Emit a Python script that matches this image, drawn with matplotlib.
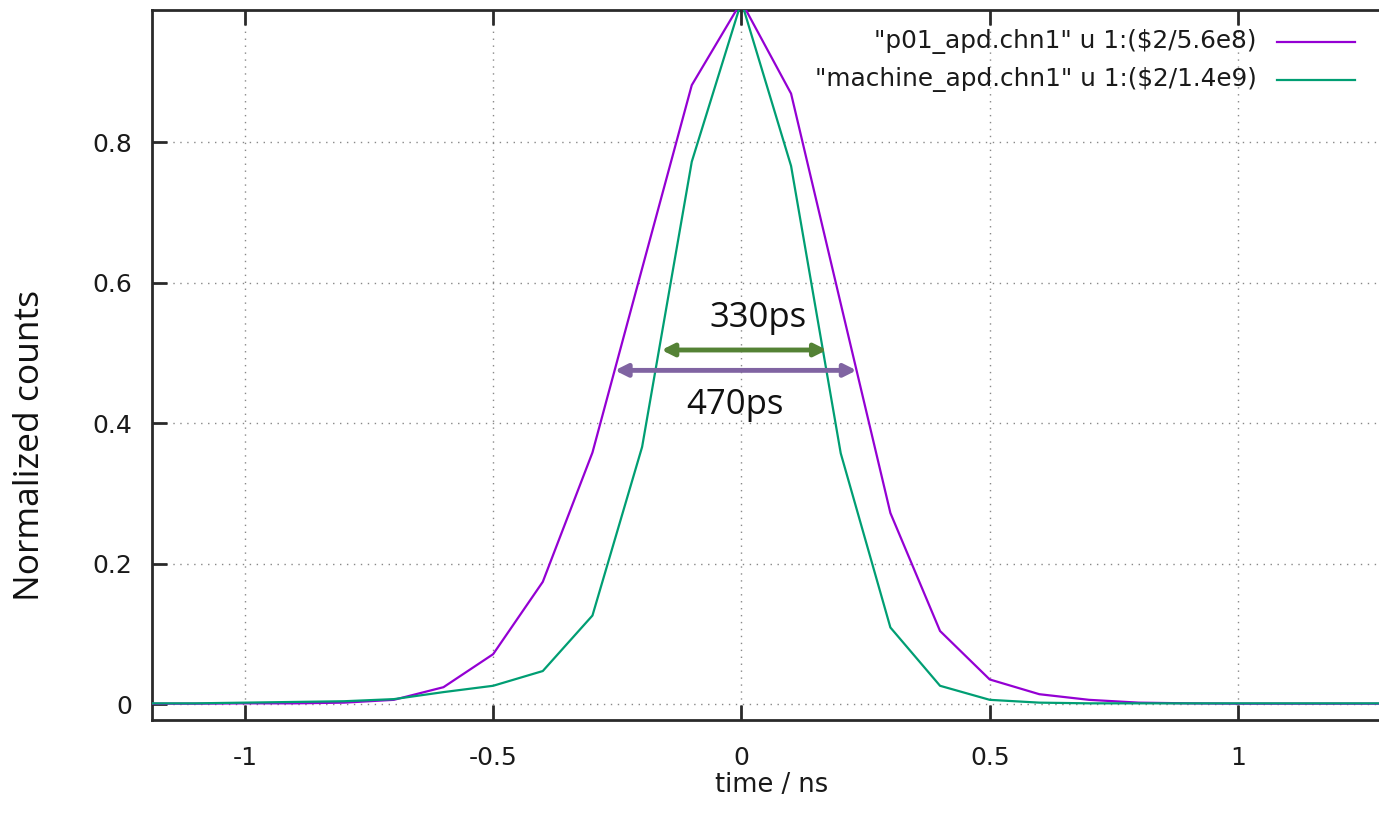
import matplotlib
matplotlib.use("Agg")
import matplotlib.pyplot as plt

# ---- data ----
time_ns = [-1.2, -1.1, -1.0, -0.9, -0.8, -0.7, -0.6, -0.5, -0.4, -0.3, -0.2, -0.1,
           0.0, 0.1, 0.2, 0.3, 0.4, 0.5, 0.6, 0.7, 0.8, 0.9, 1.0, 1.1, 1.2, 1.3]
p01 = [0.0005, 0.0005, 0.001, 0.001, 0.002, 0.006, 0.024, 0.071, 0.174, 0.358, 0.62, 0.881,
       1.0, 0.869, 0.57, 0.272, 0.104, 0.035, 0.014, 0.006, 0.002, 0.001, 0.0005, 0.0005, 0.0005, 0.0005]
machine = [0.001, 0.001, 0.002, 0.003, 0.004, 0.007, 0.017, 0.026, 0.047, 0.126, 0.366, 0.772,
           1.0, 0.766, 0.357, 0.109, 0.026, 0.006, 0.002, 0.001, 0.001, 0.001, 0.001, 0.001, 0.001, 0.001]
labels = ['"p01_apd.chn1" u 1:($2/5.6e8)', '"machine_apd.chn1" u 1:($2/1.4e9)']
xticks = [-1, -0.5, 0, 0.5, 1]
xticklabels = ["-1", "-0.5", "0", "0.5", "1"]
yticks = [0, 0.2, 0.4, 0.6, 0.8]
yticklabels = ["0", "0.2", "0.4", "0.6", "0.8"]
fwhm_machine = (-0.161, 0.172, 0.504)
fwhm_p01 = (-0.255, 0.232, 0.475)
fwhm_texts = ["330ps", "470ps"]

W, H = 1379, 825
fig = plt.figure(figsize=(W / 100, H / 100), dpi=100)
ax = fig.add_axes([152 / W, 1 - 719.5 / H, 1 - 152 / W, (719.5 - 10) / H])

c_p, c_m = "#9400d3", "#009e73"
ax.plot(time_ns, p01, color=c_p, lw=1.6, zorder=3)
ax.plot(time_ns, machine, color=c_m, lw=1.6, zorder=3)

ax.set_xlim(-1.187, 1.284)
ax.set_ylim(-0.022, 0.988)
ax.set_xticks(xticks)
ax.set_xticklabels(xticklabels)
ax.set_yticks(yticks)
ax.set_yticklabels(yticklabels)
ax.grid(True, linestyle=(0, (1, 4)), color="#888888", lw=1.0)

for s in ["left", "bottom", "top"]:
    ax.spines[s].set_linewidth(2.0)
    ax.spines[s].set_color("#2a2a2a")
ax.spines["right"].set_visible(False)
ax.tick_params(direction="in", length=11, width=2.0, color="#2a2a2a",
               top=True, right=False, labelsize=18)
for lab in ax.get_xticklabels() + ax.get_yticklabels():
    lab.set_family("DejaVu Sans")
    lab.set_color("#1a1a1a")
ax.tick_params(axis="x", pad=19)
ax.tick_params(axis="y", pad=14)

# FWHM arrows
ax.annotate("", xy=(fwhm_machine[0], fwhm_machine[2]), xytext=(fwhm_machine[1], fwhm_machine[2]),
            arrowprops=dict(arrowstyle="<|-|>", color="#548235", lw=3.5,
                            mutation_scale=18, shrinkA=0, shrinkB=0), zorder=4)
ax.annotate("", xy=(fwhm_p01[0], fwhm_p01[2]), xytext=(fwhm_p01[1], fwhm_p01[2]),
            arrowprops=dict(arrowstyle="<|-|>", color="#8064a2", lw=3.5,
                            mutation_scale=18, shrinkA=0, shrinkB=0), zorder=4)
ax.text(0.033, 0.549, fwhm_texts[0], ha="center", va="center", fontsize=25,
        family="Open Sans", color="#111111")
ax.text(-0.013, 0.425, fwhm_texts[1], ha="center", va="center", fontsize=25,
        family="Open Sans", color="#111111")

# legend (gnuplot-style, right-aligned text, sample on right)
for i, (lab, col) in enumerate(zip(labels, [c_p, c_m])):
    ypix = 42 + 38 * i
    yf = 1 - ypix / H
    fig.text(1257 / W, yf, lab, ha="right", va="center", fontsize=17.8,
             family="DejaVu Sans", color="#1a1a1a", parse_math=False)
    fig.add_artist(plt.Line2D([1277 / W, 1355 / W], [yf, yf], color=col, lw=1.6))

fig.text(30 / W, 1 - 445 / H, "Normalized counts", rotation=90, ha="center", va="center",
         fontsize=25.5, family="Open Sans", color="#111111")
fig.text(772 / W, 1 - 785 / H, "time / ns", ha="center", va="center",
         fontsize=18.5, family="DejaVu Sans", color="#1a1a1a")

fig.savefig("out.png", dpi=100, facecolor="white")
